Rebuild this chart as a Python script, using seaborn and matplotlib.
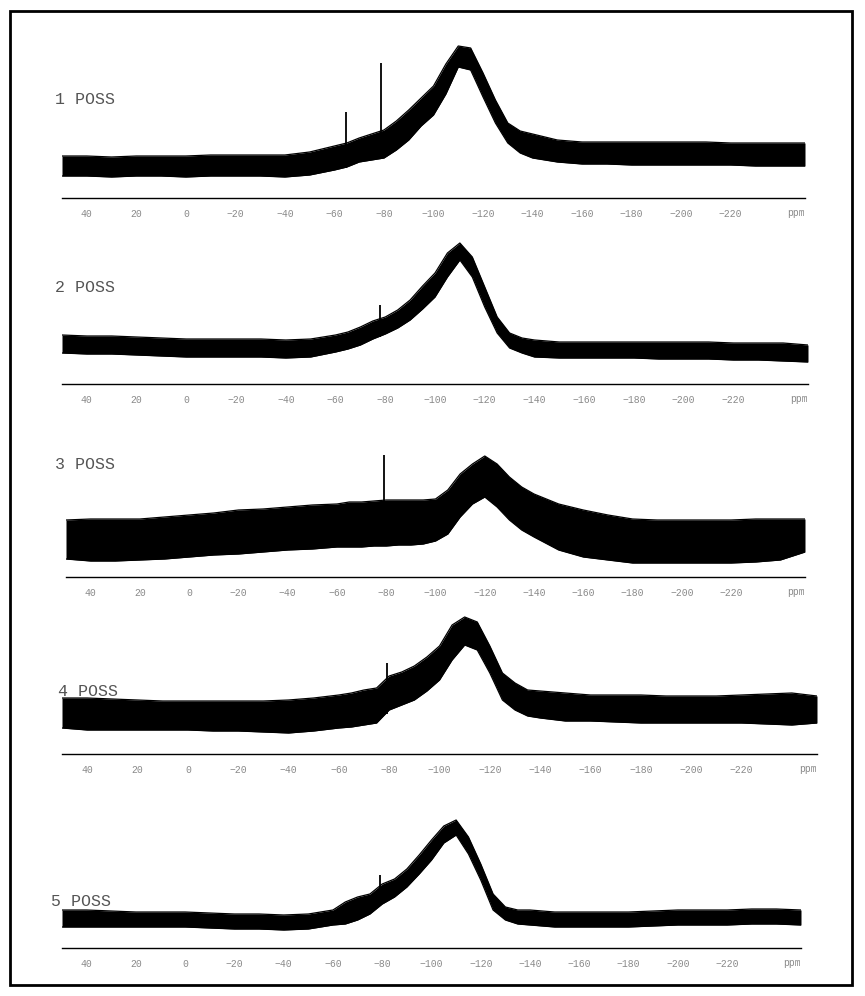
import numpy as np
import pandas as pd
import matplotlib
matplotlib.use("Agg")
import matplotlib.pyplot as plt
import seaborn as sns
from matplotlib.patches import Rectangle

sns.set_style("white")
plt.rcParams["font.family"] = ["Liberation Mono", "DejaVu Sans Mono"]

# chemical shift grid (ppm) shared by all spectra
ppm = [50, 40, 30, 20, 10, 0, -10, -20, -30, -40, -50, -60, -65, -70, -75, -80, -85, -90, -95,
       -100, -105, -110, -115, -120, -125, -130, -135, -140, -150, -160, -170, -180, -190,
       -200, -210, -220, -230, -240, -250]

# upper / lower edge of the noisy trace (intensity, arb. units)
poss1_upper = [42, 42, 41, 42, 42, 42, 43, 43, 43, 43, 46, 52, 55, 60, 64, 68, 77, 88, 100,
               112, 134, 152, 150, 125, 98, 75, 67, 64, 58, 56, 56, 56, 56, 56, 56, 55, 55, 55, 55]
poss1_lower = [22, 22, 21, 22, 22, 21, 22, 22, 22, 21, 23, 28, 31, 36, 38, 40, 48, 58, 72,
               83, 104, 131, 128, 101, 75, 55, 45, 40, 36, 34, 34, 33, 33, 33, 33, 33, 32, 32, 32]

poss2_upper = [49, 48, 48, 47, 46, 45, 45, 45, 45, 44, 45, 49, 52, 57, 63, 67, 74, 84, 98,
               111, 131, 141, 127, 97, 67, 51, 46, 44, 42, 42, 42, 42, 42, 42, 42, 41, 41, 41, 39]
poss2_lower = [31, 30, 30, 29, 28, 27, 27, 27, 27, 26, 27, 32, 35, 39, 45, 50, 56, 64, 75,
               87, 107, 124, 107, 77, 51, 36, 31, 27, 26, 26, 26, 26, 25, 25, 25, 24, 24, 23, 22]

poss3_upper = [57, 58, 58, 58, 60, 62, 64, 67, 68, 70, 72, 73, 75, 75, 76, 77, 77, 77, 77,
               78, 87, 103, 113, 121, 113, 100, 90, 83, 73, 67, 62, 58, 57, 57, 57, 57, 58, 58, 58]
poss3_lower = [18, 16, 16, 17, 18, 20, 22, 23, 25, 27, 28, 30, 30, 30, 31, 31, 32, 32, 33,
               36, 43, 60, 73, 80, 70, 57, 47, 40, 27, 20, 17, 14, 14, 14, 14, 14, 15, 17, 25]

poss4_upper = [56, 56, 55, 54, 53, 53, 53, 53, 53, 54, 56, 59, 61, 64, 66, 78, 82, 88, 97,
               108, 129, 137, 132, 108, 81, 71, 64, 63, 61, 59, 59, 59, 58, 58, 58, 59, 60, 61, 58]
poss4_lower = [26, 24, 24, 24, 24, 24, 23, 23, 22, 21, 23, 26, 27, 29, 31, 44, 49, 54, 63,
               74, 94, 109, 104, 81, 54, 44, 38, 36, 33, 33, 32, 31, 31, 31, 31, 31, 30, 29, 31]

poss5_upper = [38, 38, 37, 36, 36, 36, 35, 34, 34, 33, 34, 38, 46, 51, 54, 64, 69, 79, 93,
               108, 122, 128, 111, 84, 54, 41, 38, 38, 36, 36, 36, 36, 37, 38, 38, 38, 39, 39, 38]
poss5_lower = [21, 21, 21, 21, 21, 21, 20, 19, 19, 18, 19, 23, 24, 28, 34, 44, 51, 61, 74,
               88, 105, 113, 94, 68, 38, 28, 24, 23, 21, 21, 21, 21, 22, 23, 23, 23, 24, 24, 23]

# sharp peaks on top of the broad band
spike_ppm = [[-64.5, -79], [-78], [-79], [-79], [-79]]
spike_top = [[86, 135], [79], [122], [91], [73]]
spike_bot = [[30, 40], [47], [40], [40], [45]]

labels = ["1 POSS", "2 POSS", "3 POSS", "4 POSS", "5 POSS"]
uppers = [poss1_upper, poss2_upper, poss3_upper, poss4_upper, poss5_upper]
lowers = [poss1_lower, poss2_lower, poss3_lower, poss4_lower, poss5_lower]

tick_pos = [40, 20, 0, -20, -40, -60, -80, -100, -120, -140, -160, -180, -200, -220, -240]
tick_lab = ["40", "20", "0", "\u221220", "\u221240", "\u221260", "\u221280", "\u2212100",
            "\u2212120", "\u2212140", "\u2212160", "\u2212180", "\u2212200", "\u2212220", ""]
minor_pos = [30, 10, -10, -30, -50, -70, -90, -110, -130, -150, -170, -190, -210, -230]

# panel placement in pixels: left, right, y of the axis line; label position
W, H = 865, 996
AX_H = 175
panels = [(62, 805, 198), (62, 808, 384), (66, 805, 577), (62, 817, 754), (62, 801, 948)]
label_xy = [(55, 100), (55, 287), (55, 464), (58, 691), (51, 901)]

fig = plt.figure(figsize=(W / 100, H / 100), dpi=100)

for i in range(5):
    xl, xr, ya = panels[i]
    ax = fig.add_axes([xl / W, (H - ya) / H, (xr - xl) / W, AX_H / H])
    ax.patch.set_alpha(0)
    df = pd.DataFrame({"ppm": ppm, "upper": uppers[i], "lower": lowers[i]})
    ax.fill_between(df["ppm"], df["lower"], df["upper"], color="black", lw=0)
    sns.lineplot(data=df, x="ppm", y="upper", ax=ax, color="black", lw=0.9)
    sns.lineplot(data=df, x="ppm", y="lower", ax=ax, color="black", lw=0.9)
    ax.vlines(spike_ppm[i], spike_bot[i], spike_top[i], color="black", lw=1.3)

    ax.set_xlim(50, -250)
    ax.set_ylim(0, AX_H)
    ax.set_xlabel("")
    ax.set_ylabel("")
    ax.set_yticks([])
    for s in ["top", "left", "right"]:
        ax.spines[s].set_visible(False)
    ax.spines["bottom"].set_color("black")
    ax.spines["bottom"].set_linewidth(1.0)
    ax.set_xticks(tick_pos, tick_lab)
    ax.set_xticks(minor_pos, minor=True)
    ax.tick_params(axis="x", which="major", length=5, width=1.0, color="black",
                   labelsize=7, labelcolor="#8a8a8a", pad=3, direction="out")
    ax.tick_params(axis="x", which="minor", length=2.5, width=0.8, color="black", direction="out")
    ax.text(-250, -15, "ppm", ha="right", va="center", fontsize=7, color="#8a8a8a", clip_on=False)

    lx, ly = label_xy[i]
    fig.text(lx / W, 1 - ly / H, labels[i], ha="left", va="center", fontsize=12, color="#555555")

fig.patches.append(Rectangle((9.5 / W, 11 / H), (852 - 9.5) / W, (985 - 11) / H,
                             transform=fig.transFigure, fill=False, lw=2, ec="black"))
# rectangle above uses y from bottom; flip to image coords
fig.patches[-1].set_xy((9.5 / W, 1 - 985 / H))

fig.savefig("out.png", dpi=100)
